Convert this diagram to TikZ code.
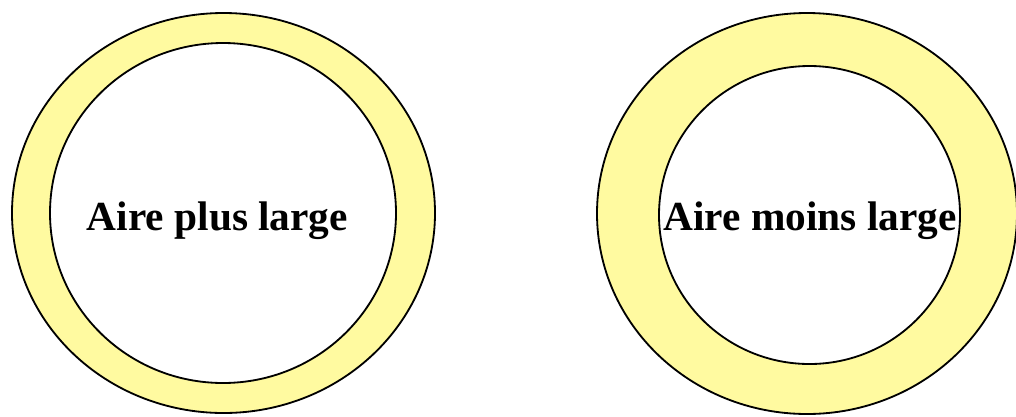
\documentclass[tikz,border=0pt]{standalone}
\usepackage{fontspec}
\setmainfont{Liberation Serif}
\definecolor{ringyellow}{RGB}{255,250,160}
\begin{document}
\begin{tikzpicture}[x=0.025cm,y=-0.025cm,
    ring/.style={fill=ringyellow,draw=black,line width=1.3pt},
    hole/.style={fill=white,draw=black,line width=1.3pt},
    label/.style={font=\fontsize{29.4}{35}\selectfont\bfseries,inner sep=0pt}]
      \useasboundingbox (0,0) rectangle (1016,416);
      % left ring, thin band
      \draw[ring] (223.5,213) ellipse [x radius=211.5,y radius=200];
      \draw[hole] (223,213) ellipse [x radius=173,y radius=170];
      % right ring, wide band
      \draw[ring] (807,213.5) ellipse [x radius=210,y radius=200.5];
      \draw[hole] (809.5,215) ellipse [x radius=150.5,y radius=149];
      \node[label,anchor=base] (wide) at (217.5,230) {Aire plus large};
      \node[label,anchor=base] (narrow) at (810,230) {Aire moins large};
    \end{tikzpicture}
\end{document}
